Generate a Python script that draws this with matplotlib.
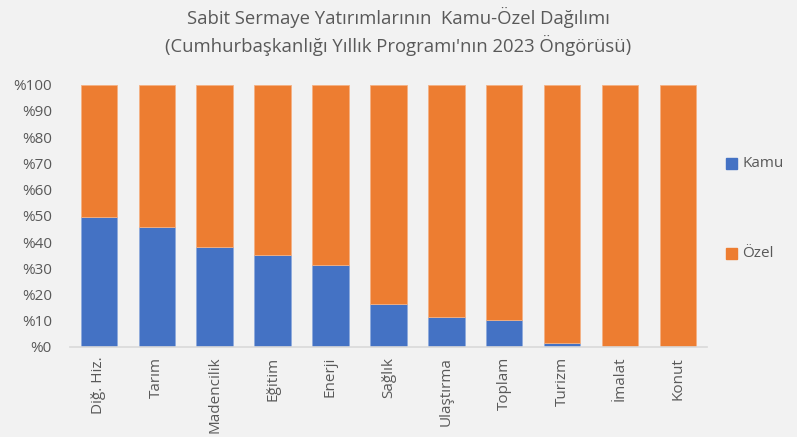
import numpy as np
import matplotlib.pyplot as plt
from matplotlib.patches import Rectangle

# Veriler (grafikten okunan yaklaşık değerler, %)
sektorler = ['Diğ. Hiz.', 'Tarım', 'Madencilik', 'Eğitim', 'Enerji', 'Sağlık',
             'Ulaştırma', 'Toplam', 'Turizm', 'İmalat', 'Konut']
kamu = [49.4, 45.9, 38.3, 35.2, 31.4, 16.3, 11.6, 10.4, 1.6, 0.0, 0.0]
ozel = [100 - k for k in kamu]

ytick_etiketleri = ['%0', '%10', '%20', '%30', '%40', '%50',
                    '%60', '%70', '%80', '%90', '%100']

plt.rcParams['font.family'] = ['Open Sans', 'DejaVu Sans']
gri = '#595959'
arka = '#F2F2F2'
mavi = '#4472C4'
turuncu = '#ED7D31'

fig = plt.figure(figsize=(7.97, 4.37), dpi=100, facecolor=arka)
ax = fig.add_axes([0.0878, 0.206, 0.799, 0.6])
ax.set_facecolor(arka)

x = np.arange(len(sektorler))
ax.bar(x, kamu, width=0.63, color=mavi, edgecolor='#8FAADC',
       linewidth=0.6, label='Kamu')
ax.bar(x, ozel, width=0.63, bottom=kamu, color=turuncu, edgecolor='#F4B183',
       linewidth=0.6, label='Özel')

ax.set_xlim(-0.5, len(sektorler) - 0.5)
ax.set_ylim(0, 100)
ax.set_yticks(np.arange(0, 101, 10))
ax.set_yticklabels(ytick_etiketleri, fontsize=11, color=gri)
ax.set_xticks(x)
ax.set_xticklabels(sektorler, rotation=90, fontsize=11, color=gri)
ax.tick_params(axis='y', length=0, pad=13)
ax.tick_params(axis='x', length=0, pad=7)

for s in ['top', 'right', 'left']:
    ax.spines[s].set_visible(False)
ax.spines['bottom'].set_color('#D9D9D9')
ax.spines['bottom'].set_linewidth(1.2)

fig.text(0.5, 0.960, 'Sabit Sermaye Yatırımlarının  Kamu-Özel Dağılımı',
         ha='center', va='center', fontsize=13.3, color=gri)
fig.text(0.5, 0.897, "(Cumhurbaşkanlığı Yıllık Programı'nın 2023 Öngörüsü)",
         ha='center', va='center', fontsize=13.3, color=gri)

# Sağdaki açıklama
kw = 11 / 797
kh = 11 / 437
for yy, renk, ad in [(0.627, mavi, 'Kamu'), (0.421, turuncu, 'Özel')]:
    fig.patches.append(Rectangle((726 / 797, yy - kh / 2), kw, kh,
                                 transform=fig.transFigure, color=renk))
    fig.text(742 / 797, yy, ad, color=gri, fontsize=11, va='center')

fig.savefig('out.png', dpi=100, facecolor=arka)
